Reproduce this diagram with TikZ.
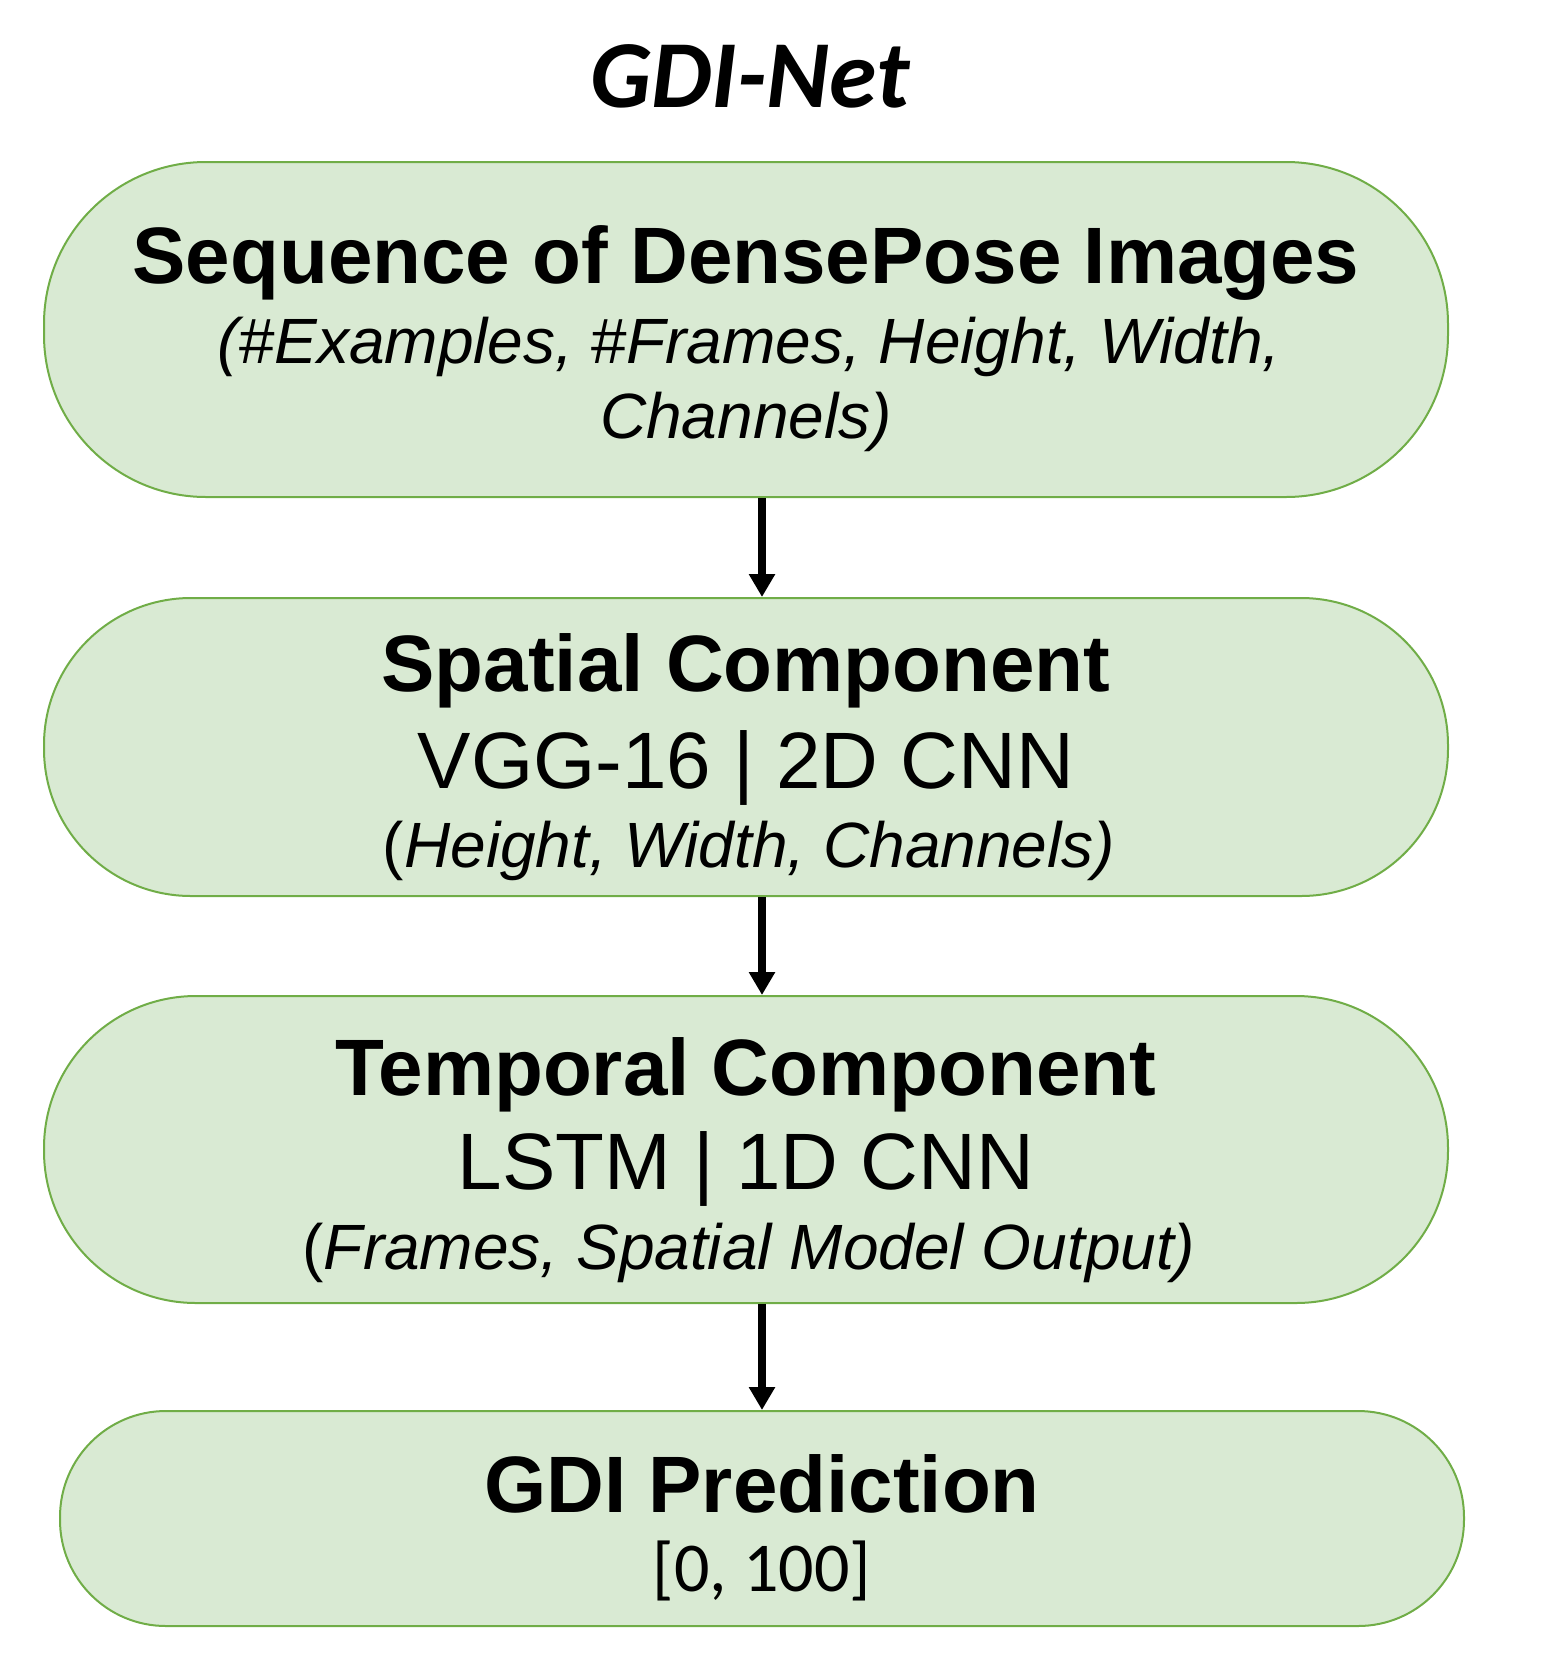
\documentclass[tikz,border=0pt]{standalone}
\usepackage{fontspec}
\setmainfont{Liberation Sans}
\newfontfamily\calfont{Carlito}
\usetikzlibrary{arrows.meta}
\definecolor{boxfill}{HTML}{D9EAD3}
\definecolor{boxline}{HTML}{70AD47}
\begin{document}
\begin{tikzpicture}[x=1pt,y=-1pt,
  stadium/.style={draw=boxline, fill=boxfill, line width=2pt, rectangle, inner sep=0pt},
  txt/.style={anchor=base, inner sep=0pt},
  bigb/.style={txt, font=\fontsize{80}{90}\selectfont\bfseries},
  bigr/.style={txt, font=\fontsize{80}{90}\selectfont},
  smi/.style={txt, font=\fontsize{64}{72}\selectfont\itshape},
  arr/.style={line width=7.5pt, -{Triangle[width=25pt,length=23pt]}}]
\useasboundingbox (0,0) rectangle (1554,1658);
% title
\node[txt, font=\calfont\fontsize{96}{104}\selectfont\bfseries\itshape] (title) at (750,107) {GDI-Net};
% boxes
\node[stadium, minimum width=1404pt, minimum height=335pt, rounded corners=162pt] (b1) at (746,329.5) {};
\node[stadium, minimum width=1404pt, minimum height=298pt, rounded corners=147pt] (b2) at (746,747) {};
\node[stadium, minimum width=1404pt, minimum height=307pt, rounded corners=152pt] (b3) at (746,1149.5) {};
\node[stadium, minimum width=1404pt, minimum height=215pt, rounded corners=106pt] (b4) at (762,1518.5) {};
% texts
\node[bigb] (t1a) at (746,283) {Sequence of DensePose Images};
\node[smi] (t1b) at (749,363) {(\#Examples, \#Frames, Height, Width,};
\node[smi] (t1c) at (746,438) {Channels)};
\node[bigb] (t2a) at (746,691) {Spatial Component};
\node[bigr] (t2b) at (746,788) {VGG-16 | 2D CNN};
\node[smi] (t2c) at (749,867) {{\upshape(}Height, Width, Channels)};
\node[bigb] (t3a) at (746,1095) {Temporal Component};
\node[bigr] (t3b) at (746,1189) {LSTM | 1D CNN};
\node[smi] (t3c) at (749,1269) {{\upshape(}Frames, Spatial Model Output)};
\node[bigb] (t4a) at (762,1512) {GDI Prediction};
\node[txt, font=\calfont\fontsize{70}{78}\selectfont] (t4b) at (762,1591) {[0, 100]};
% arrows
\coordinate (ax) at (762,0);
\draw[arr] (b1.south -| ax) -- (b2.north -| ax);
\draw[arr] (b2.south -| ax) -- (b3.north -| ax);
\draw[arr] (b3.south -| ax) -- (b4.north -| ax);
\end{tikzpicture}
\end{document}
